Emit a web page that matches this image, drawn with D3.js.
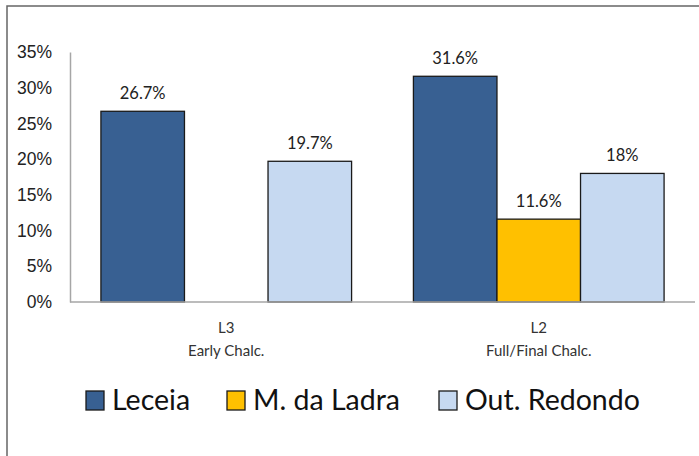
<!DOCTYPE html>
<html>
<head>
<meta charset="utf-8">
<script src="https://cdn.jsdelivr.net/npm/d3@7"></script>
<style>
  html, body { margin: 0; padding: 0; background: #fff; }
  svg { display: block; font-family: Lato, "Open Sans", sans-serif; }
</style>
</head>
<body>
<svg id="chart" width="699" height="456"></svg>
<script>
// Chart data
const categories = ["L3|Early Chalc.", "L2|Full/Final Chalc."];
const seriesNames = ["Leceia", "M. da Ladra", "Out. Redondo"];
const leceia = [26.7, 31.6];
const ladra = [null, 11.6];
const redondo = [19.7, 18];
const valueLabels = [["26.7%", "31.6%"], [null, "11.6%"], ["19.7%", "18%"]];
const yTicks = [0, 5, 10, 15, 20, 25, 30, 35];
const colors = ["#386092", "#ffc000", "#c6d9f1"];

const seriesValues = [leceia, ladra, redondo];

const svg = d3.select('#chart');

// Outer frame
svg.append('rect')
    .attr('x', 7).attr('y', 6)
    .attr('width', 720).attr('height', 480)
    .attr('fill', 'none')
    .attr('stroke', '#666')
    .attr('stroke-width', 1.5);

const plotLeft = 70, plotRight = 695, plotTop = 52, plotBottom = 302;

const x0 = d3.scaleBand()
    .domain(categories)
    .range([plotLeft, plotRight])
    .paddingInner(0)
    .paddingOuter(0);

const x1 = d3.scaleBand()
    .domain(seriesNames)
    .range([0, x0.bandwidth()])
    .paddingInner(0)
    .paddingOuter(0.37);

const y = d3.scaleLinear()
    .domain([0, 35])
    .range([plotBottom, plotTop]);

// Y axis labels
const yAxis = svg.append('g')
    .attr('transform', `translate(${plotLeft},0)`)
    .call(d3.axisLeft(y).tickValues(yTicks).tickSize(0).tickPadding(18).tickFormat(d => d + '%'));
yAxis.select('.domain').attr('stroke', '#a6a6a6').attr('stroke-width', 1.5);
yAxis.selectAll('text')
    .attr('fill', '#222')
    .style('font-size', '17.5px');

// Bars
const flat = [];
seriesValues.forEach((vals, si) => {
    vals.forEach((v, ci) => {
        if (v !== null) flat.push({ s: si, c: ci, v: v, label: valueLabels[si][ci] });
    });
});

svg.append('g').selectAll('rect')
    .data(flat)
    .enter()
    .append('rect')
    .attr('x', d => x0(categories[d.c]) + x1(seriesNames[d.s]))
    .attr('y', d => y(d.v))
    .attr('width', x1.bandwidth())
    .attr('height', d => y(0) - y(d.v))
    .attr('fill', d => colors[d.s])
    .attr('stroke', '#1a1a1a')
    .attr('stroke-width', 1.3);

// Value labels
svg.append('g').selectAll('text')
    .data(flat)
    .enter()
    .append('text')
    .attr('x', d => x0(categories[d.c]) + x1(seriesNames[d.s]) + x1.bandwidth() / 2)
    .attr('y', d => y(d.v) - 12)
    .attr('text-anchor', 'middle')
    .attr('fill', '#222')
    .style('font-size', '16.5px')
    .text(d => d.label);

// X axis baseline
svg.append('line')
    .attr('x1', plotLeft).attr('x2', plotRight)
    .attr('y1', y(0)).attr('y2', y(0))
    .attr('stroke', '#a6a6a6')
    .attr('stroke-width', 1.5);

// Category labels
const catG = svg.append('g').selectAll('text')
    .data(categories)
    .enter()
    .append('text')
    .attr('text-anchor', 'middle')
    .attr('fill', '#333')
    .style('font-size', '15px');
catG.each(function (d) {
    const parts = d.split('|');
    const cx = x0(d) + x0.bandwidth() / 2;
    d3.select(this).append('tspan').attr('x', cx).attr('y', 333).text(parts[0]);
    d3.select(this).append('tspan').attr('x', cx).attr('y', 356).text(parts[1]);
});

// Legend
const legendX = [86, 227, 439];
const legend = svg.append('g').selectAll('g')
    .data(seriesNames)
    .enter()
    .append('g')
    .attr('transform', (d, i) => `translate(${legendX[i]},391)`);
legend.append('rect')
    .attr('width', 18).attr('height', 19)
    .attr('fill', (d, i) => colors[i])
    .attr('stroke', '#1a1a1a')
    .attr('stroke-width', 1.3);
legend.append('text')
    .attr('x', 26).attr('y', 19)
    .attr('fill', '#111')
    .style('font-size', '28.5px')
    .text(d => d);
</script>
</body>
</html>
